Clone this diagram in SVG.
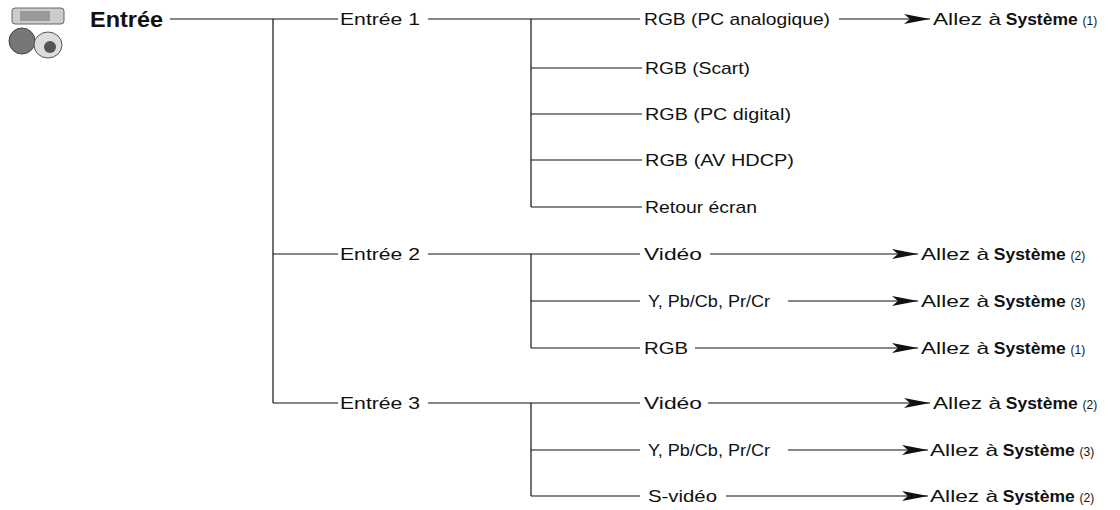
<svg xmlns="http://www.w3.org/2000/svg" width="1120" height="510" viewBox="0 0 1120 510">
<style>
text{font-family:"Liberation Sans",Arial,sans-serif;font-size:17px;fill:#111}
.b{font-weight:bold}
.s{font-size:12px}
line{stroke:#111;stroke-width:1.2}
</style>
<defs><marker id="a" markerWidth="26" markerHeight="10" refX="26" refY="5" orient="auto" markerUnits="userSpaceOnUse"><path d="M0,0 L26,5 L0,10 L6,5 Z" fill="#111"/></marker></defs>
<rect width="1120" height="510" fill="#fff"/>
<g id="icon">
<rect x="12" y="8" width="52" height="16" rx="3" fill="#ccc" stroke="#666"/>
<rect x="20" y="11" width="30" height="10" fill="#999"/>
<circle cx="22" cy="41" r="13" fill="#777" stroke="#444"/>
<ellipse cx="48" cy="45" rx="14" ry="13" fill="#ddd" stroke="#555"/>
<circle cx="50" cy="47" r="6" fill="#555"/>
</g>
<g id="root"><text x="90" y="27" class="b" style="font-size:22px" textLength="73" lengthAdjust="spacingAndGlyphs">Entrée</text></g>
<g id="connectors">
<line x1="170" y1="19" x2="338" y2="19"/>
<line x1="273" y1="19" x2="273" y2="403"/>
<line x1="273" y1="254" x2="338" y2="254"/>
<line x1="273" y1="403" x2="338" y2="403"/>
<line x1="428" y1="19" x2="640" y2="19"/>
<line x1="531" y1="19" x2="531" y2="207"/>
<line x1="531" y1="68" x2="642" y2="68"/>
<line x1="531" y1="114" x2="642" y2="114"/>
<line x1="531" y1="160" x2="642" y2="160"/>
<line x1="531" y1="207" x2="642" y2="207"/>
<line x1="428" y1="254" x2="640" y2="254"/>
<line x1="531" y1="254" x2="531" y2="348"/>
<line x1="531" y1="301" x2="640" y2="301"/>
<line x1="531" y1="348" x2="640" y2="348"/>
<line x1="428" y1="403" x2="640" y2="403"/>
<line x1="531" y1="403" x2="531" y2="496"/>
<line x1="531" y1="450" x2="640" y2="450"/>
<line x1="531" y1="496" x2="640" y2="496"/>
<line x1="839" y1="19" x2="930" y2="19" marker-end="url(#a)"/>
<line x1="710" y1="254" x2="918" y2="254" marker-end="url(#a)"/>
<line x1="788" y1="301" x2="918" y2="301" marker-end="url(#a)"/>
<line x1="695" y1="348" x2="918" y2="348" marker-end="url(#a)"/>
<line x1="708" y1="403" x2="930" y2="403" marker-end="url(#a)"/>
<line x1="788" y1="450" x2="928" y2="450" marker-end="url(#a)"/>
<line x1="726" y1="496" x2="928" y2="496" marker-end="url(#a)"/>
</g>
<g id="l1"><text x="340" y="25" textLength="80" lengthAdjust="spacingAndGlyphs">Entrée 1</text><text x="340" y="260" textLength="80" lengthAdjust="spacingAndGlyphs">Entrée 2</text><text x="340" y="409" textLength="80" lengthAdjust="spacingAndGlyphs">Entrée 3</text></g>
<g id="l2">
<text x="644" y="25" textLength="186" lengthAdjust="spacingAndGlyphs">RGB (PC analogique)</text>
<text x="645" y="74" textLength="105" lengthAdjust="spacingAndGlyphs">RGB (Scart)</text>
<text x="645" y="120" textLength="146" lengthAdjust="spacingAndGlyphs">RGB (PC digital)</text>
<text x="645" y="166" textLength="149" lengthAdjust="spacingAndGlyphs">RGB (AV HDCP)</text>
<text x="645" y="213" textLength="112" lengthAdjust="spacingAndGlyphs">Retour écran</text>
<text x="644" y="260" textLength="58" lengthAdjust="spacingAndGlyphs">Vidéo</text>
<text x="648" y="307" textLength="122" lengthAdjust="spacingAndGlyphs">Y, Pb/Cb, Pr/Cr</text>
<text x="644" y="354" textLength="44" lengthAdjust="spacingAndGlyphs">RGB</text>
<text x="644" y="409" textLength="58" lengthAdjust="spacingAndGlyphs">Vidéo</text>
<text x="648" y="456" textLength="122" lengthAdjust="spacingAndGlyphs">Y, Pb/Cb, Pr/Cr</text>
<text x="648" y="502" textLength="69" lengthAdjust="spacingAndGlyphs">S-vidéo</text>
</g>
<g id="targets">
<text x="933" y="25"><tspan textLength="68" lengthAdjust="spacingAndGlyphs">Allez à</tspan> <tspan class="b" textLength="72" lengthAdjust="spacingAndGlyphs">Système</tspan> <tspan class="s">(1)</tspan></text>
<text x="921" y="260"><tspan textLength="68" lengthAdjust="spacingAndGlyphs">Allez à</tspan> <tspan class="b" textLength="72" lengthAdjust="spacingAndGlyphs">Système</tspan> <tspan class="s">(2)</tspan></text>
<text x="921" y="307"><tspan textLength="68" lengthAdjust="spacingAndGlyphs">Allez à</tspan> <tspan class="b" textLength="72" lengthAdjust="spacingAndGlyphs">Système</tspan> <tspan class="s">(3)</tspan></text>
<text x="921" y="354"><tspan textLength="68" lengthAdjust="spacingAndGlyphs">Allez à</tspan> <tspan class="b" textLength="72" lengthAdjust="spacingAndGlyphs">Système</tspan> <tspan class="s">(1)</tspan></text>
<text x="933" y="409"><tspan textLength="68" lengthAdjust="spacingAndGlyphs">Allez à</tspan> <tspan class="b" textLength="72" lengthAdjust="spacingAndGlyphs">Système</tspan> <tspan class="s">(2)</tspan></text>
<text x="930" y="456"><tspan textLength="68" lengthAdjust="spacingAndGlyphs">Allez à</tspan> <tspan class="b" textLength="72" lengthAdjust="spacingAndGlyphs">Système</tspan> <tspan class="s">(3)</tspan></text>
<text x="930" y="502"><tspan textLength="68" lengthAdjust="spacingAndGlyphs">Allez à</tspan> <tspan class="b" textLength="72" lengthAdjust="spacingAndGlyphs">Système</tspan> <tspan class="s">(2)</tspan></text>
</g>
</svg>
